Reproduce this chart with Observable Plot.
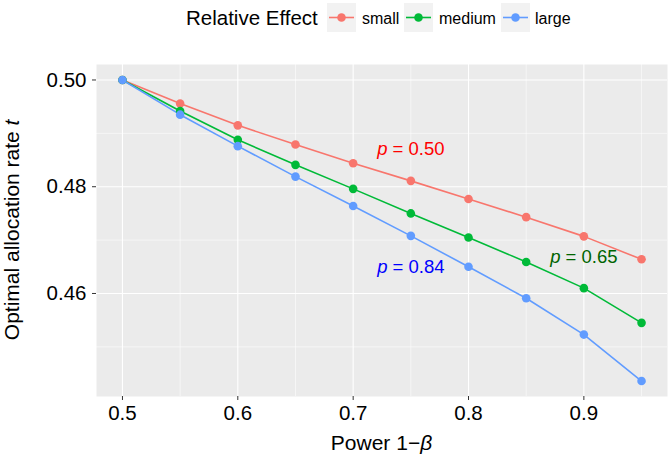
<!DOCTYPE html>
<html>
<head>
<meta charset="utf-8">
<script src="https://cdn.jsdelivr.net/npm/d3@7"></script>
<script src="https://cdn.jsdelivr.net/npm/@observablehq/plot@0.6"></script>
<style>
  html, body { margin: 0; padding: 0; background: white; }
  body { width: 669px; height: 463px; overflow: hidden; font-family: "Liberation Sans", Arial, Helvetica, sans-serif; }
  #legend, #chart { display: block; }
  svg { display: block; }
</style>
</head>
<body>
<div id="legend"></div>
<div id="chart"></div>
<script>
// ---- data ----
const power = [0.5, 0.55, 0.6, 0.65, 0.7, 0.75, 0.8, 0.85, 0.9, 0.95];
const small  = [0.5, 0.4956, 0.4915, 0.4879, 0.4844, 0.4811, 0.4777, 0.4743, 0.4707, 0.4664];
const medium = [0.5, 0.4942, 0.4888, 0.4841, 0.4796, 0.4750, 0.4705, 0.4659, 0.4610, 0.4545];
const large  = [0.5, 0.4935, 0.4876, 0.4819, 0.4764, 0.4708, 0.4650, 0.4591, 0.4523, 0.4436];
const effects = ["small", "medium", "large"];
const colors = ["#F8766D", "#00BA38", "#619CFF"];
const xMajor = [0.5, 0.6, 0.7, 0.8, 0.9];
const xMinor = [0.55, 0.65, 0.75, 0.85, 0.95];
const yMajor = [0.46, 0.48, 0.50];
const yMinor = [0.45, 0.47, 0.49];
const labelText = ["p = 0.50", "p = 0.65", "p = 0.84"];
const labelX = [0.75, 0.9, 0.75];
const labelY = [0.4870, 0.4668, 0.4649];
const labelColor = ["red", "darkgreen", "blue"];
const legendTitle = "Relative Effect";
const xTitle = ["Power 1\u2212", "\u03B2"];
const yTitle = ["Optimal allocation rate ", "t"];

const FONT = '"Liberation Sans", Arial, Helvetica, sans-serif';
const series = [small, medium, large];
const rows = effects.flatMap((e, i) => power.map((p, j) => ({power: p, t: series[i][j], effect: e})));
const labels = labelText.map((s, i) => ({x: labelX[i], y: labelY[i], text: s, color: labelColor[i]}));

// ---- legend (HTML/SVG strip above the plot) ----
const lg = d3.select("#legend").append("svg").attr("width", 669).attr("height", 40)
  .style("font-family", FONT);
lg.append("text").attr("x", 186).attr("y", 25).attr("font-size", 20.5).attr("fill", "black").text(legendTitle);
const keyX = [327, 404, 501];
const labX = [362, 439, 535];
effects.forEach((e, i) => {
  const g = lg.append("g");
  g.append("rect").attr("x", keyX[i]).attr("y", 3).attr("width", 29).attr("height", 29).attr("fill", "#F2F2F2");
  g.append("line").attr("x1", keyX[i] + 2).attr("x2", keyX[i] + 27).attr("y1", 17.5).attr("y2", 17.5)
    .attr("stroke", colors[i]).attr("stroke-width", 1.6);
  g.append("circle").attr("cx", keyX[i] + 14.5).attr("cy", 17.5).attr("r", 4.3).attr("fill", colors[i]);
  g.append("text").attr("x", labX[i]).attr("y", 24).attr("font-size", 16).attr("fill", "black").text(e);
});

// ---- plot ----
const chart = Plot.plot({
  width: 669,
  height: 423,
  marginLeft: 96,
  marginRight: 2,
  marginTop: 24,
  marginBottom: 67,
  style: {fontFamily: FONT, fontSize: "20px", color: "black", background: "white", overflow: "visible"},
  x: {domain: [0.4775, 0.9725], label: null},
  y: {domain: [0.4407, 0.5029], label: null},
  color: {domain: effects, range: colors},
  marks: [
    Plot.frame({fill: "#EBEBEB", stroke: "none"}),
    Plot.ruleX(xMinor, {stroke: "white", strokeWidth: 0.55}),
    Plot.ruleY(yMinor, {stroke: "white", strokeWidth: 0.55}),
    Plot.ruleX(xMajor, {stroke: "white", strokeWidth: 1.1}),
    Plot.ruleY(yMajor, {stroke: "white", strokeWidth: 1.1}),
    Plot.line(rows, {x: "power", y: "t", z: "effect", stroke: "effect", strokeWidth: 1.6}),
    Plot.dot(rows, {x: "power", y: "t", fill: "effect", r: 4.3}),
    Plot.text(labels, {x: "x", y: "y", text: "text", fill: "color", fontSize: 18.5, textAnchor: "middle"}),
    Plot.axisX({ticks: xMajor, tickFormat: d => d.toFixed(1), tickSize: 4, tickPadding: 5, stroke: "#333", fill: "black", fontSize: 20.5, label: null}),
    Plot.axisY({ticks: yMajor, tickFormat: d => d.toFixed(2), tickSize: 4, tickPadding: 6, stroke: "#333", fill: "black", fontSize: 20.5, label: null})
  ]
});
document.getElementById("chart").appendChild(chart);

// italic "p" in annotations
d3.select(chart).selectAll('g[aria-label="text"] text').each(function () {
  const el = d3.select(this);
  const s = el.text();
  const rest = s.slice(1);
  el.text(null);
  el.append("tspan").attr("font-style", "italic").text(s[0]);
  el.append("tspan").text(rest);
});

// axis titles
const svg = d3.select(chart);
const xt = svg.append("text").attr("x", (96 + 667) / 2).attr("y", 410)
  .attr("text-anchor", "middle").attr("font-size", 21).attr("fill", "black").attr("font-family", FONT);
xt.append("tspan").text(xTitle[0]);
xt.append("tspan").attr("font-style", "italic").text(xTitle[1]);
const yt = svg.append("text").attr("transform", `translate(19,${(24 + 355.7) / 2}) rotate(-90)`)
  .attr("text-anchor", "middle").attr("font-size", 21).attr("fill", "black").attr("font-family", FONT);
yt.append("tspan").text(yTitle[0]);
yt.append("tspan").attr("font-style", "italic").text(yTitle[1]);
</script>
</body>
</html>
